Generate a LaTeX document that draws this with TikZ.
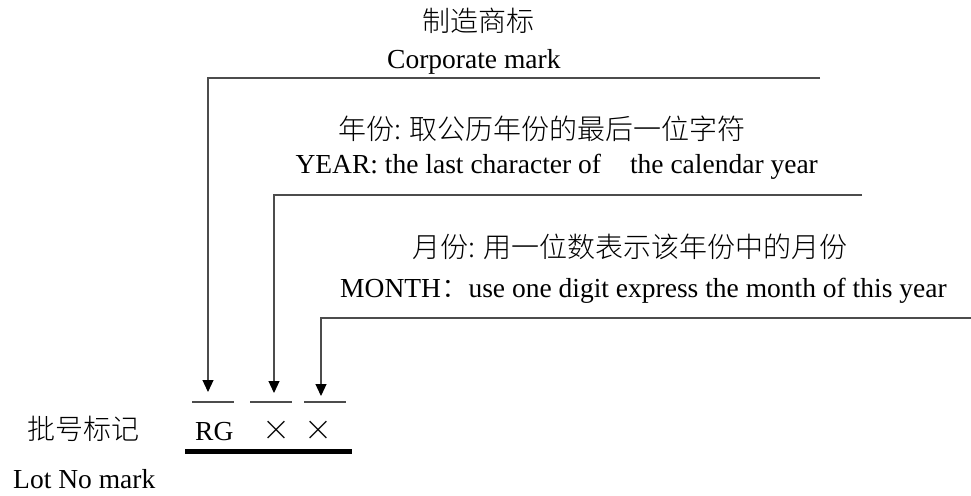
\documentclass[tikz,border=0pt]{standalone}
\usepackage{fontspec}
\setmainfont{Liberation Serif}
\newfontfamily\cjk{Noto Sans CJK SC Light}
\usetikzlibrary{arrows.meta}
\begin{document}
\begin{tikzpicture}[x=1pt,y=-1pt,
  lbl/.style={inner sep=0pt,font=\fontsize{27.5}{33}\selectfont},
  cjklbl/.style={inner sep=0pt,font=\fontsize{28}{33}\selectfont\cjk},
  lead/.style={line width=1.2pt,draw=black!70},
  tipline/.style={lead,-{Triangle[length=12pt,width=11pt,color=black]}},
  bar/.style={line width=1.2pt,draw=black!70}]
\useasboundingbox (0,0) rectangle (971,495);
% texts
\node[cjklbl,anchor=base west] (cn1) at (422,32) {制造商标};
\node[lbl,anchor=base west] (en1) at (387,68) {Corporate mark};
\node[cjklbl,anchor=base west] (cn2) at (338,139) {年份: 取公历年份的最后一位字符};
\node[lbl,anchor=base east] (en2) at (818,173) {YEAR: the last character of\hspace{29pt}the calendar year};
\node[cjklbl,anchor=base west] (cn3) at (412,257) {月份: 用一位数表示该年份中的月份};
\node[lbl,anchor=base west] (en3) at (340,297) {MONTH{\cjk ：}use one digit express the month of this year};
\node[cjklbl,anchor=base west] (cn4) at (27,439) {批号标记};
\node[lbl,anchor=base west] (en4) at (13,488) {Lot No mark};
\node[lbl,anchor=base west] (rg) at (195,440) {RG};
\node[cjklbl,anchor=base] (x1) at (276,440) {×};
\node[cjklbl,anchor=base] (x2) at (318,440) {×};
% leader coordinates
\coordinate (e1) at (820,78);  \coordinate (k1) at (208,78);  \coordinate (t1) at (208,392);
\coordinate (e2) at (862,195); \coordinate (k2) at (274,195); \coordinate (t2) at (274,393);
\coordinate (e3) at (971,318); \coordinate (k3) at (321,318); \coordinate (t3) at (321,396);
\draw[tipline] (e1) -- (k1) -- (t1);
\draw[tipline] (e2) -- (k2) -- (t2);
\draw[tipline] (e3) -- (k3) -- (t3);
% short bars over characters
\coordinate (b1l) at (192,402); \coordinate (b1r) at (234,402);
\coordinate (b2l) at (250,402); \coordinate (b2r) at (292,402);
\coordinate (b3l) at (304,402); \coordinate (b3r) at (346,402);
\draw[bar] (b1l) -- (b1r);
\draw[bar] (b2l) -- (b2r);
\draw[bar] (b3l) -- (b3r);
% thick underline
\coordinate (ul) at (185,451); \coordinate (ur) at (352,451);
\draw[line width=5pt] (ul) -- (ur);
\end{tikzpicture}
\end{document}
